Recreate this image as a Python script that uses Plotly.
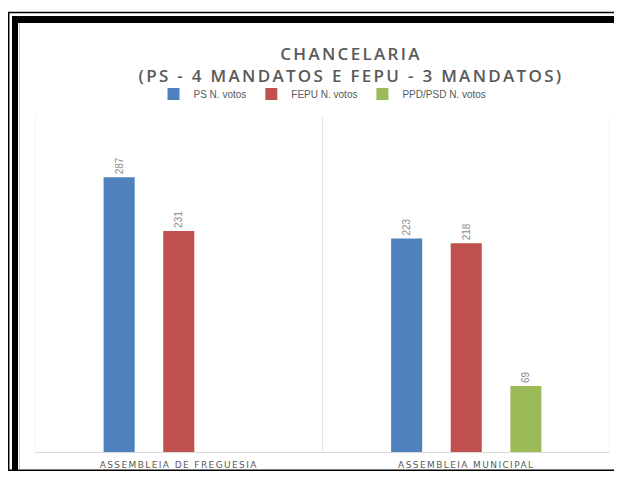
import plotly.graph_objects as go

categories = ["ASSEMBLEIA DE FREGUESIA", "ASSEMBLEIA MUNICIPAL"]
series_names = ["PS N. votos", "FEPU N. votos", "PPD/PSD N. votos"]
ps_votes = [287, 223]
fepu_votes = [231, 218]
ppd_votes = [None, 69]
title_lines = ["CHANCELARIA", "(PS - 4 MANDATOS E FEPU - 3 MANDATOS)"]

colors = ["#4F81BD", "#C0504D", "#9BBB59"]
OFF = 8  # page body margin
W, H = 622 - 2 * OFF, 479 - 2 * OFF  # visible area inside the page margins
# plot area in screen pixels: x 35..610, y 117..452
ML = 35 - OFF
MR = W - (610 - OFF)
MT = 117 - OFF
MB = H - (452 - OFF)
PW = W - ML - MR
PH = H - MT - MB
YB = OFF + H  # last visible screen row
XR = OFF + W  # last visible screen column


def px(x):
    """screen x -> paper"""
    return (x - OFF - ML) / PW


def py(y):
    """screen y -> paper"""
    return (H - MB - (y - OFF)) / PH


def spaced(t, s):
    return '<span style="letter-spacing:%spx">%s</span>' % (s, t)


fig = go.Figure()
for name, vals, col in zip(series_names, [ps_votes, fepu_votes, ppd_votes], colors):
    fig.add_trace(go.Bar(
        name=name, x=categories, y=vals, marker_color=col,
        marker_line_width=0,
        text=[("" if v is None else str(v)) for v in vals],
        textposition="outside", textangle=-90,
        textfont=dict(family="Liberation Sans", size=10, color="#8C8C8C"),
        cliponaxis=False,
    ))

shapes = []
# frame: thin outer lines
shapes.append(dict(type="line", xref="paper", yref="paper",
                   x0=px(8), x1=px(XR), y0=py(12.5), y1=py(12.5),
                   line=dict(color="black", width=1.5), layer="above"))
shapes.append(dict(type="line", xref="paper", yref="paper",
                   x0=px(8.7), x1=px(8.7), y0=py(12), y1=py(YB),
                   line=dict(color="black", width=1.5), layer="above"))
# frame: thick bands
shapes.append(dict(type="rect", xref="paper", yref="paper",
                   x0=px(12), x1=px(18), y0=py(16), y1=py(YB),
                   line=dict(width=0), fillcolor="black", layer="above"))
shapes.append(dict(type="rect", xref="paper", yref="paper",
                   x0=px(12), x1=px(XR), y0=py(16), y1=py(23),
                   line=dict(width=0), fillcolor="black", layer="above"))
# frame: bottom line
shapes.append(dict(type="rect", xref="paper", yref="paper",
                   x0=px(8), x1=px(XR), y0=py(YB - 1.5), y1=py(YB),
                   line=dict(width=0), fillcolor="black", layer="above"))
# inner light line
shapes.append(dict(type="line", xref="paper", yref="paper",
                   x0=px(19.5), x1=px(19.5), y0=py(23), y1=py(YB - 2),
                   line=dict(color="#D0D0D0", width=1)))
# category boundary lines
for xb in [-0.5, 0.5, 1.5]:
    shapes.append(dict(type="line", xref="x", yref="paper",
                       x0=xb, x1=xb, y0=0, y1=1,
                       line=dict(color="#E6E6E6", width=1), layer="below"))

title_text = "<br>".join(spaced(t, 2.3) for t in title_lines)

fig.update_layout(
    width=W, height=H,
    margin=dict(l=ML, r=MR, t=MT, b=MB, autoexpand=False),
    paper_bgcolor="white", plot_bgcolor="white",
    barmode="group", bargap=0.378, bargroupgap=0.479,
    title=dict(text=title_text, x=(351 - OFF) / W, xanchor="center",
               y=1 - (60 - OFF) / H, yanchor="middle", automargin=False,
               font=dict(family="Open Sans", size=17, color="#595959", weight=600)),
    legend=dict(orientation="h", x=0.5, xanchor="center", y=py(94), yanchor="middle",
                font=dict(family="Liberation Sans", size=10, color="#595959"),
                itemwidth=30, bgcolor="rgba(0,0,0,0)"),
    xaxis=dict(range=[-0.5, 1.5], showgrid=False, showline=True, linecolor="#D9D9D9",
               linewidth=1, ticks="", zeroline=False, automargin=False,
               tickvals=categories, ticktext=[spaced(c, 1.4) for c in categories],
               ticklabelstandoff=4,
               tickfont=dict(family="DejaVu Sans", size=9, color="#595959")),
    yaxis=dict(range=[0, 350], showgrid=False, showticklabels=False, zeroline=False,
               showline=False, automargin=False),
    shapes=shapes,
    showlegend=True,
)

fig.write_html("out.html")
